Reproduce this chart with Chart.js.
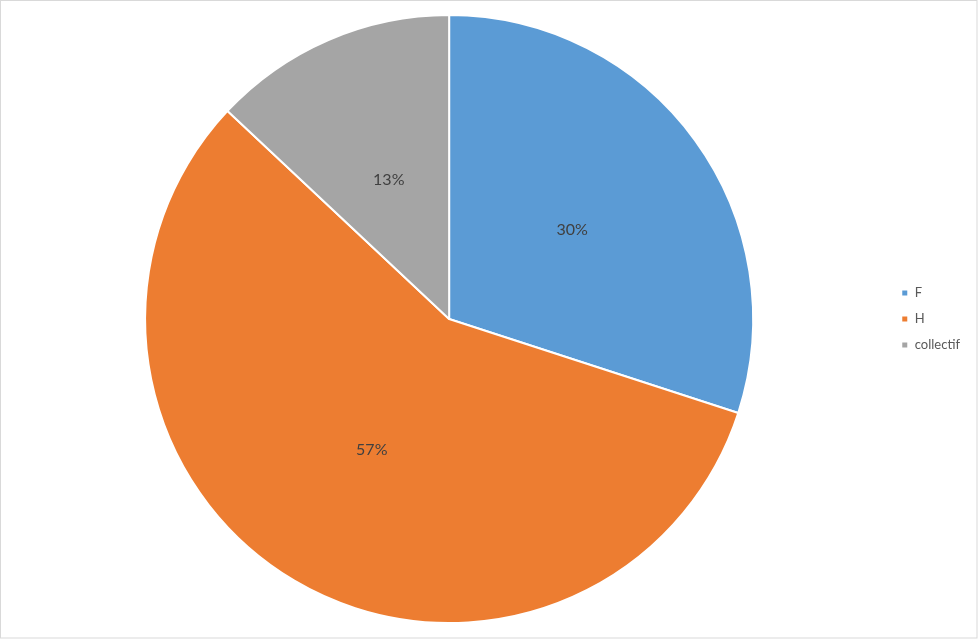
<!DOCTYPE html>
<html>
<head>
<meta charset="utf-8">
<script src="https://cdn.jsdelivr.net/npm/chart.js@4/dist/chart.umd.min.js"></script>
<style>
  html, body { margin: 0; padding: 0; background: #fff; }
  #wrap { position: relative; width: 978px; height: 639px; }
</style>
</head>
<body>
<div id="wrap"><canvas id="chart" width="978" height="639"></canvas></div>
<script>
var labels = ['F', 'H', 'collectif'];
var values = [30, 57, 13];
var colors = ['#5B9BD5', '#ED7D31', '#A5A5A5'];

// percentage labels in the middle of each slice
var sliceLabels = {
  id: 'sliceLabels',
  afterDatasetsDraw: function (chart) {
    var ctx = chart.ctx;
    var meta = chart.getDatasetMeta(0);
    var total = values.reduce(function (a, b) { return a + b; }, 0);
    ctx.save();
    ctx.font = '16px Lato, "Noto Sans", sans-serif';
    ctx.fillStyle = '#404040';
    ctx.textAlign = 'center';
    ctx.textBaseline = 'middle';
    meta.data.forEach(function (arc, i) {
      var p = arc.tooltipPosition();
      ctx.fillText(Math.round(values[i] / total * 100) + '%', p.x, p.y);
    });
    ctx.restore();
  }
};

var frame = {
  id: 'frame',
  afterDraw: function (chart) {
    var ctx = chart.ctx;
    ctx.save();
    ctx.strokeStyle = '#d9d9d9';
    ctx.lineWidth = 1;
    ctx.strokeRect(0.5, 0.5, chart.width - 1.5, chart.height - 1.5);
    ctx.restore();
  }
};

new Chart(document.getElementById('chart').getContext('2d'), {
  type: 'pie',
  data: {
    labels: labels,
    datasets: [{
      data: values,
      backgroundColor: colors,
      borderColor: '#ffffff',
      borderWidth: 2
    }]
  },
  options: {
    responsive: false,
    animation: false,
    layout: { padding: { left: 10, right: 8, top: 14, bottom: 15 } },
    plugins: {
      tooltip: { enabled: false },
      legend: {
        position: 'right',
        labels: {
          boxWidth: 7,
          boxHeight: 7,
          padding: 13,
          color: '#595959',
          font: { size: 13, family: 'Lato, "Noto Sans", sans-serif' }
        }
      }
    }
  },
  plugins: [sliceLabels, frame]
});
</script>
</body>
</html>
